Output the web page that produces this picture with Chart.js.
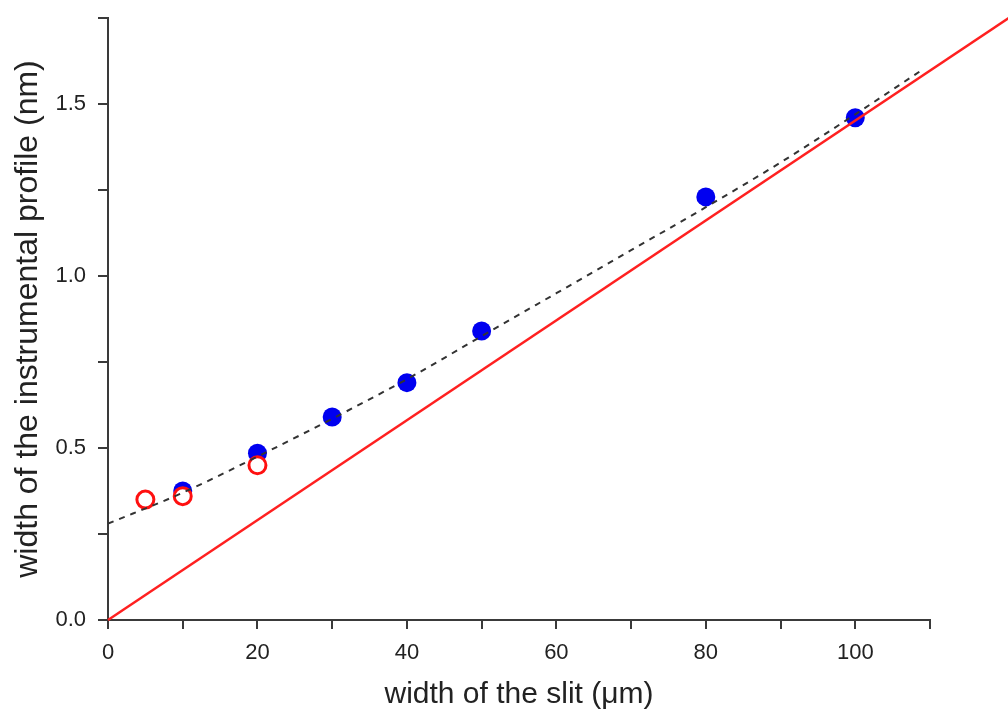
<!DOCTYPE html>
<html>
<head>
<meta charset="utf-8">
<script src="https://cdn.jsdelivr.net/npm/chart.js@4.4.1/dist/chart.umd.min.js"></script>
<style>
html,body{margin:0;padding:0;background:#fff;}
#wrap{width:1008px;height:713px;}
</style>
</head>
<body>
<div id="wrap"><canvas id="c" width="1008" height="713"></canvas></div>
<script>
// Measured data (blue filled points)
const slitBlue = [10, 20, 30, 40, 50, 80, 100];
const widthBlue = [0.375, 0.485, 0.59, 0.69, 0.84, 1.23, 1.46];
// Red open circles
const slitRed = [5, 10, 20];
const widthRed = [0.35, 0.36, 0.45];
// Dashed fit curve
const fitX = [0, 10, 20, 30, 40, 50, 60, 70, 80, 90, 100, 109];
const fitY = [0.28, 0.37, 0.475, 0.585, 0.70, 0.825, 0.95, 1.075, 1.20, 1.33, 1.47, 1.60];
// Red straight line (geometric width)
const lineX = [0, 125];
const lineY = [0, 1.815];
// Tick values
const xLabelTicks = [0, 20, 40, 60, 80, 100];
const yLabelTicks = [0.0, 0.5, 1.0, 1.5];

const toPts = (xs, ys) => xs.map((x, i) => ({x: x, y: ys[i]}));
const FONT = "'Liberation Sans', Arial, sans-serif";
const AX = '#3a3a3a';

new Chart(document.getElementById('c'), {
  type: 'scatter',
  data: {
    datasets: [
      {
        label: 'line', data: toPts(lineX, lineY), showLine: true,
        borderColor: '#ff2020', borderWidth: 2.5, pointRadius: 0, clip: false, order: 1
      },
      {
        label: 'fit', data: toPts(fitX, fitY), showLine: true,
        borderColor: '#333333', borderWidth: 2, borderDash: [6, 6],
        pointRadius: 0, cubicInterpolationMode: 'monotone', order: 2
      },
      {
        label: 'red', data: toPts(slitRed, widthRed),
        pointRadius: 8.5, pointBorderWidth: 3, pointBorderColor: '#ff1010',
        pointBackgroundColor: '#ffffff', order: 3
      },
      {
        label: 'blue', data: toPts(slitBlue, widthBlue),
        pointRadius: 9.5, pointBorderWidth: 0, pointBackgroundColor: '#0000f0',
        pointBorderColor: '#0000f0', order: 4
      }
    ]
  },
  options: {
    responsive: false,
    animation: false,
    layout: {padding: {top: 18, right: 78, left: 0, bottom: 0}},
    plugins: {legend: {display: false}, tooltip: {enabled: false}},
    scales: {
      x: {
        type: 'linear', min: 0, max: 110,
        afterFit: s => { s.height = 93; s.paddingLeft = 0; s.paddingRight = 0; },
        border: {display: true, color: AX, width: 2},
        grid: {display: true, drawOnChartArea: false, drawTicks: true, tickLength: 9, color: AX, lineWidth: 2},
        ticks: {
          stepSize: 10, padding: 11, color: '#222', font: {family: FONT, size: 22},
          maxRotation: 0, autoSkip: false,
          callback: v => xLabelTicks.includes(v) ? String(v) : ''
        },
        title: {display: true, text: 'width of the slit (\u03bcm)', color: '#222',
          font: {family: FONT, size: 30}, padding: {top: 4, bottom: 0}}
      },
      y: {
        type: 'linear', min: 0, max: 1.75,
        afterFit: s => { s.width = 108; s.paddingTop = 0; s.paddingBottom = 0; },
        border: {display: true, color: AX, width: 2},
        grid: {display: true, drawOnChartArea: false, drawTicks: true, tickLength: 10, color: AX, lineWidth: 2},
        ticks: {
          stepSize: 0.25, padding: 12, color: '#222', font: {family: FONT, size: 22},
          autoSkip: false,
          callback: v => yLabelTicks.some(t => Math.abs(t - v) < 1e-6) ? v.toFixed(1) : ''
        },
        title: {display: true, text: 'width of the instrumental profile (nm)', color: '#222',
          font: {family: FONT, size: 32}, padding: {top: 9, bottom: 4}}
      }
    }
  }
});
</script>
</body>
</html>
